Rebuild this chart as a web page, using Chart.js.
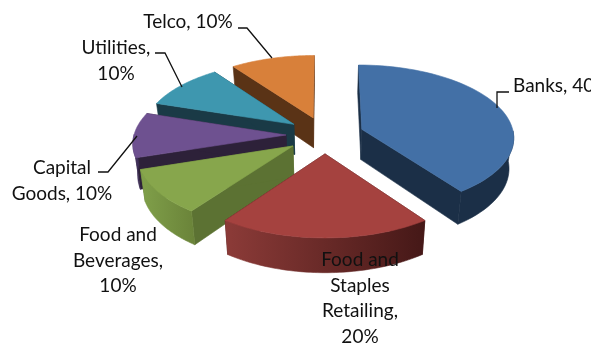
<!DOCTYPE html>
<html>
<head>
<meta charset="utf-8">
<title>Portfolio by sector</title>
<script src="https://cdn.jsdelivr.net/npm/chart.js@4"></script>
<style>
  html, body { margin: 0; padding: 0; background: #fff; }
  #wrap { width: 591px; height: 347px; overflow: hidden; }
</style>
</head>
<body>
<div id="wrap"><canvas id="myChart"></canvas></div>
<script>
const categories = ["Banks", "Food and Staples Retailing", "Food and Beverages", "Capital Goods", "Utilities", "Telco"];
const shares = [40, 20, 10, 10, 10, 10];

const topColors = ["#4370a6", "#a5423f", "#87a64c", "#6e5190", "#3e97af", "#d8803a"];
const edgeColors = ["#1b2f47", "#451a18", "#5c7233", "#2d2139", "#1a3a46", "#5a3316"];
// left and right colour of the curved rim
const rimColors = [
  ["#1b2f47", "#1b2f47"],
  ["#8c3b38", "#451817"],
  ["#80a04a", "#6a8339"],
  ["#4a3868", "#3a2b50"],
  ["#1f4d5c", "#1f4d5c"],
  ["#6e3f1c", "#6e3f1c"]
];

// text box for each slice label: centre x, first line y, wrap width
const labelBoxes = [
  { x: 513, y: 86, wrap: Infinity, align: "left" },
  { x: 360, y: 260, wrap: 85 },
  { x: 118, y: 235, wrap: 95 },
  { x: 62, y: 168, wrap: 105 },
  { x: 116, y: 48, wrap: 85 },
  { x: 188, y: 22, wrap: Infinity }
];
const leaderLines = [
  [[509, 92], [497, 92], [497, 108]],
  null,
  null,
  [[98, 172], [108, 172], [137, 136]],
  [[155, 53], [165, 53], [182, 87]],
  [[238, 28], [247, 28], [272, 58]]
];

const TILT = 0.472;        // vertical squash of the disc
const PERSPECTIVE = 0.0985;
const DEPTH = 30.5;
const BASE_SHRINK = 0.025; // the underside sits slightly further away
const LINE_HEIGHT = 25.6;

// maps a point on the flat pie (relative to its centre) to the tilted view
function project(arc, dx, dy, z) {
  const w = 1 / (1 - PERSPECTIVE * dy / arc.outerRadius);
  return {
    x: arc.x + dx * w * (1 - z * BASE_SHRINK),
    y: arc.y + TILT * dy * w + z * DEPTH * w
  };
}

function fillShape(ctx, pts, color) {
  ctx.beginPath();
  pts.forEach((p, i) => i ? ctx.lineTo(p.x, p.y) : ctx.moveTo(p.x, p.y));
  ctx.closePath();
  ctx.fillStyle = color;
  ctx.strokeStyle = color;
  ctx.lineWidth = 0.6;
  ctx.fill();
  ctx.stroke();
}

function drawSlice(ctx, arc, index) {
  const mid = (arc.startAngle + arc.endAngle) / 2;
  const ox = Math.cos(mid) * arc.options.offset;
  const oy = Math.sin(mid) * arc.options.offset;
  const r = arc.outerRadius;

  const outer = [];
  const front = [];
  const steps = 60;
  for (let i = 0; i <= steps; i++) {
    const a = arc.startAngle + (arc.endAngle - arc.startAngle) * i / steps;
    const p = [ox + Math.cos(a) * r, oy + Math.sin(a) * r];
    outer.push(p);
    if (Math.sin(a) > -0.02) front.push(p);
  }
  const at = (p, z) => project(arc, p[0], p[1], z);
  const apex = [ox, oy];
  const first = outer[0];
  const last = outer[steps];

  // flat cut faces
  fillShape(ctx, [at(apex, 0), at(first, 0), at(first, 1), at(apex, 1)], edgeColors[index]);
  fillShape(ctx, [at(apex, 0), at(last, 0), at(last, 1), at(apex, 1)], edgeColors[index]);

  // curved rim, only the part that faces the viewer
  if (front.length > 1) {
    const rim = front.map(p => at(p, 0)).concat(front.slice().reverse().map(p => at(p, 1)));
    const xs = rim.map(p => p.x);
    const grad = ctx.createLinearGradient(Math.min(...xs), 0, Math.max(...xs), 0);
    grad.addColorStop(0, rimColors[index][0]);
    grad.addColorStop(1, rimColors[index][1]);
    fillShape(ctx, rim, grad);
  }

  // top face
  fillShape(ctx, [at(apex, 0)].concat(outer.map(p => at(p, 0))), arc.options.backgroundColor);
}

function wrapLabel(ctx, text, width) {
  const lines = [];
  let line = "";
  text.split(" ").forEach(word => {
    const next = line ? line + " " + word : word;
    if (line && ctx.measureText(next).width > width) {
      lines.push(line);
      line = word;
    } else {
      line = next;
    }
  });
  lines.push(line);
  return lines;
}

const tiltedPie = {
  id: "tiltedPie",
  beforeDatasetDraw(chart, args) {
    const ctx = chart.ctx;
    const arcs = args.meta.data;
    // back slices first so the front ones cover them
    const order = arcs.map((arc, i) => i).sort((a, b) => {
      const midA = (arcs[a].startAngle + arcs[a].endAngle) / 2;
      const midB = (arcs[b].startAngle + arcs[b].endAngle) / 2;
      return Math.sin(midA) - Math.sin(midB);
    });
    ctx.save();
    order.forEach(i => drawSlice(ctx, arcs[i], i));
    ctx.restore();
    return false;
  },
  afterDatasetsDraw(chart) {
    const ctx = chart.ctx;
    ctx.save();
    ctx.strokeStyle = "#111";
    ctx.lineWidth = 1.3;
    leaderLines.forEach(pts => {
      if (!pts) return;
      ctx.beginPath();
      pts.forEach((p, i) => i ? ctx.lineTo(p[0], p[1]) : ctx.moveTo(p[0], p[1]));
      ctx.stroke();
    });
    ctx.fillStyle = "#111";
    ctx.font = "19px Lato";
    ctx.textBaseline = "middle";
    categories.forEach((name, i) => {
      const box = labelBoxes[i];
      ctx.textAlign = box.align || "center";
      wrapLabel(ctx, name + ", " + shares[i] + "%", box.wrap).forEach((line, n) => {
        ctx.fillText(line, box.x, box.y + n * LINE_HEIGHT);
      });
    });
    ctx.restore();
  }
};

new Chart("myChart", {
  type: "pie",
  data: {
    labels: categories,
    datasets: [{
      data: shares,
      backgroundColor: topColors,
      borderWidth: 0,
      offset: 39,
      radius: 152
    }]
  },
  options: {
    responsive: true,
    maintainAspectRatio: false,
    animation: false,
    events: [],
    layout: { padding: { left: 59, bottom: 77 } },
    plugins: {
      legend: { display: false },
      tooltip: { enabled: false }
    }
  },
  plugins: [tiltedPie]
});
</script>
</body>
</html>
